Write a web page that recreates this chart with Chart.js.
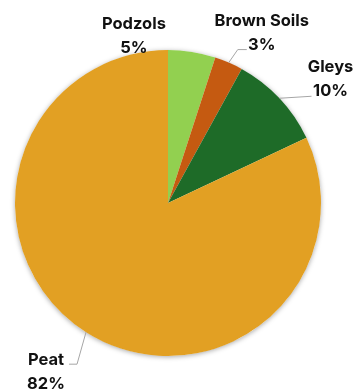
<!DOCTYPE html>
<html>
<head>
<meta charset="utf-8">
<script src="https://cdn.jsdelivr.net/npm/chart.js@4"></script>
<style>
html,body{margin:0;padding:0;background:#fff;}
#wrap{width:356px;height:392px;position:relative;}
</style>
</head>
<body>
<div id="wrap"><canvas id="c" width="356" height="392"></canvas></div>
<script>
const categories = ["Podzols", "Brown Soils", "Gleys", "Peat"];
const shares = [5, 3, 10, 82];
const percentLabels = ["5%", "3%", "10%", "82%"];
const sliceColors = ["#92D050", "#C55A11", "#1E6B28", "#E2A023"];

// label placement relative to each slice's outer mid-point
const labelLayout = [
  { dx: -58, dy: -16, leader: null },
  { dx: 33, dy: -30, leader: [[9, -13], [18, -13]] },
  { dx: 51, dy: -19, leader: [[32, -2]] },
  { dx: -40, dy: 40, leader: [[-9, 32], [-17, 32]] }
];

const shadowPlugin = {
  id: 'pieShadow',
  beforeDatasetsDraw(chart) {
    const arc = chart.getDatasetMeta(0).data[0];
    if (!arc) return;
    const ctx = chart.ctx;
    ctx.save();
    ctx.shadowColor = 'rgba(0,0,0,0.35)';
    ctx.shadowBlur = 5;
    ctx.shadowOffsetX = 0;
    ctx.shadowOffsetY = 1;
    ctx.fillStyle = '#ffffff';
    ctx.beginPath();
    ctx.arc(arc.x, arc.y, arc.outerRadius, 0, Math.PI * 2);
    ctx.fill();
    ctx.restore();
  }
};

const labelPlugin = {
  id: 'outLabels',
  afterDatasetsDraw(chart) {
    const ctx = chart.ctx;
    const meta = chart.getDatasetMeta(0);
    meta.data.forEach((arc, i) => {
      const mid = (arc.startAngle + arc.endAngle) / 2;
      const px = arc.x + Math.cos(mid) * arc.outerRadius;
      const py = arc.y + Math.sin(mid) * arc.outerRadius;
      const lay = labelLayout[i];
      if (lay.leader) {
        ctx.save();
        ctx.strokeStyle = '#A6A6A6';
        ctx.lineWidth = 1;
        ctx.beginPath();
        ctx.moveTo(px, py);
        lay.leader.forEach(p => ctx.lineTo(px + p[0], py + p[1]));
        ctx.stroke();
        ctx.restore();
      }
      const cx = px + lay.dx;
      const cy = py + lay.dy;
      ctx.save();
      ctx.fillStyle = '#111111';
      ctx.font = 'bold 16.5px Inter, "Liberation Sans", sans-serif';
      ctx.textAlign = 'center';
      ctx.textBaseline = 'middle';
      ctx.fillText(categories[i], cx, cy - 12);
      ctx.fillText(percentLabels[i], cx, cy + 12);
      ctx.restore();
    });
  }
};

new Chart(document.getElementById('c'), {
  type: 'pie',
  data: {
    labels: categories,
    datasets: [{
      data: shares,
      backgroundColor: sliceColors,
      borderWidth: 0
    }]
  },
  options: {
    responsive: false,
    animation: false,
    layout: { padding: { left: 15, right: 35, top: 50, bottom: 36 } },
    plugins: {
      legend: { display: false },
      tooltip: { enabled: false }
    }
  },
  plugins: [shadowPlugin, labelPlugin]
});
</script>
</body>
</html>
